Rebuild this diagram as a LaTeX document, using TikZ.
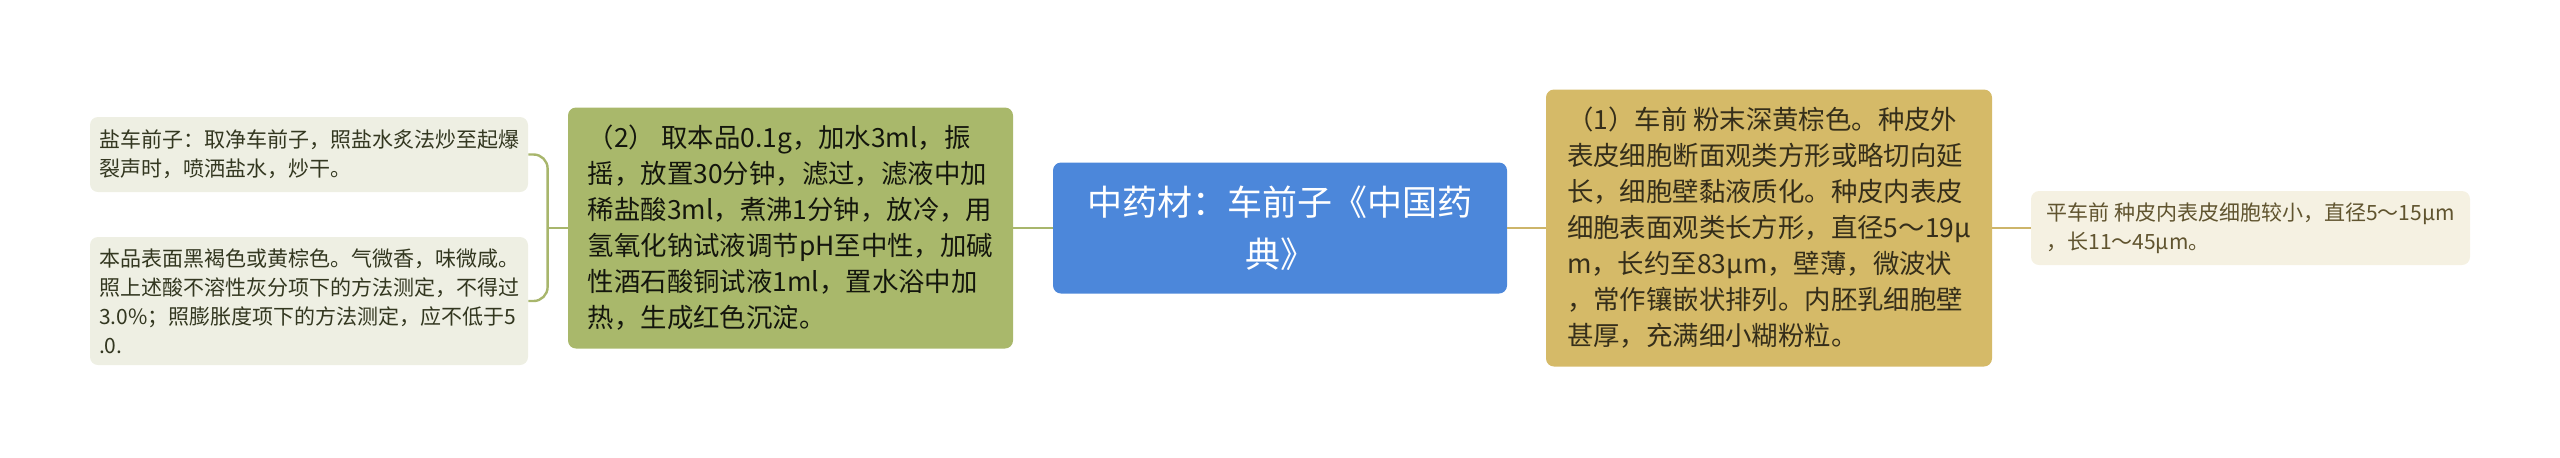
\documentclass[tikz,border=0pt]{standalone}
\usepackage{fontspec}
\setmainfont{Noto Sans CJK SC}
\usetikzlibrary{positioning}
\definecolor{rootblue}{HTML}{4C87DA}
\definecolor{olivebox}{HTML}{A9B86B}
\definecolor{goldbox}{HTML}{D5BA68}
\definecolor{oliveleaf}{HTML}{EEEFE3}
\definecolor{goldleaf}{HTML}{F5F1E2}
\definecolor{oliveline}{HTML}{A8B66C}
\definecolor{goldline}{HTML}{CDB56A}
\tikzset{ box/.style={rounded corners=4pt, inner sep=0pt, align=left,
            font=\fontsize{13.2pt}{18pt}\selectfont},
          leaf/.style={box, font=\fontsize{10.5pt}{14.5pt}\selectfont},
          link/.style={line width=1.2pt}}

\begin{document}
\begin{tikzpicture}[x=0.5pt,y=-0.5pt]
\useasboundingbox (0,0) rectangle (2560,457);

%root
\node[box, fill=rootblue, text=white, align=center,
  minimum width=227pt, minimum height=65.5pt,
  font=\fontsize{17.5pt}{26pt}\selectfont] (root) at (1280,228)
  {中药材：车前子《中国药\\典》};

%left branch
\node[box, fill=olivebox, text=black!80!olivebox!60!black,
  minimum width=222.5pt, minimum height=120.5pt] (test) at (790.5,228)
  {（2） 取本品0.1g，加水3ml，振\\摇，放置30分钟，滤过，滤液中加\\稀盐酸3ml，煮沸1分钟，放冷，用\\氢氧化钠试液调节pH至中性，加碱\\性酒石酸铜试液1ml，置水浴中加\\热，生成红色沉淀。};
\node[leaf, fill=oliveleaf, text=olivebox!30!black,
  minimum width=219pt, minimum height=37.5pt] (salt) at (309,154.5)
  {盐车前子：取净车前子，照盐水炙法炒至起爆\\裂声时，喷洒盐水，炒干。};
\node[leaf, fill=oliveleaf, text=olivebox!30!black,
  minimum width=219pt, minimum height=64pt] (look) at (309,301)
  {本品表面黑褐色或黄棕色。气微香，味微咸。\\照上述酸不溶性灰分项下的方法测定，不得过\\3.0\%；照膨胀度项下的方法测定，应不低于5\\.0.};

%right branch
\node[box, fill=goldbox, text=goldbox!25!black,
  minimum width=223pt, minimum height=138.5pt] (powder) at (1769,228)
  {（1）车前 粉末深黄棕色。种皮外\\表皮细胞断面观类方形或略切向延\\长，细胞壁黏液质化。种皮内表皮\\细胞表面观类长方形，直径5～19μ\\m，长约至83μm，壁薄，微波状\\，常作镶嵌状排列。内胚乳细胞壁\\甚厚，充满细小糊粉粒。};
\node[leaf, fill=goldleaf, text=goldbox!45!black,
  minimum width=219.5pt, minimum height=37pt] (flat) at (2250.5,228)
  {平车前 种皮内表皮细胞较小，直径5～15μm\\，长11～45μm。};

%links
\foreach \a/\b in {root.west/test.east}
  \draw[link, oliveline] (\a) -- (\b);
\foreach \a/\b in {root.east/powder.west, powder.east/flat.west}
  \draw[link, goldline] (\a) -- (\b);
\coordinate (fork) at ([xshift=-10pt]test.west);
\draw[link, oliveline] (test.west) -- (fork);
\draw[link, oliveline, rounded corners=7pt] (salt.east) -| (fork) |- (look.east);

\end{tikzpicture}
\end{document}
